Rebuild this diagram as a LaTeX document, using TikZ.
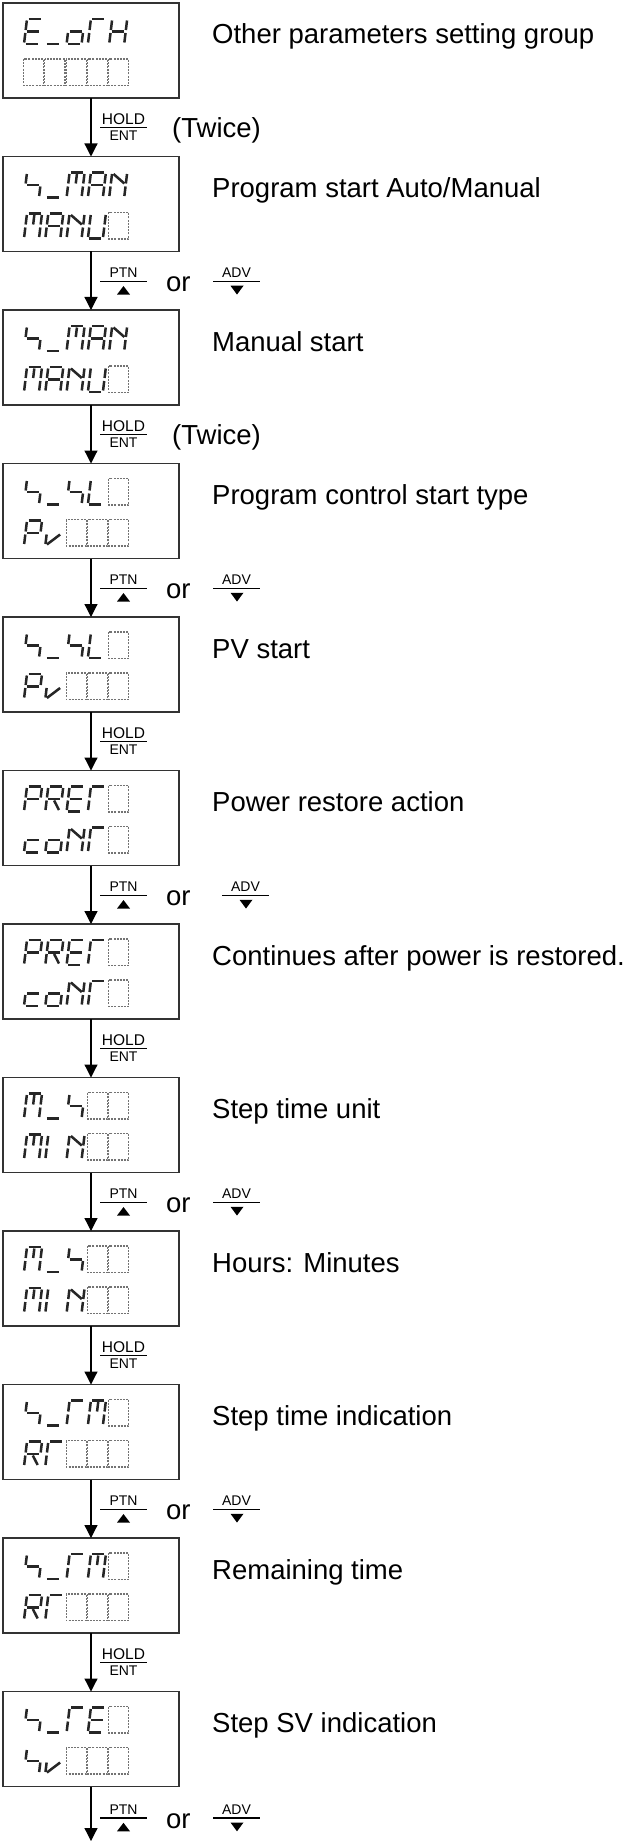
\documentclass[tikz,border=0pt]{standalone}
\usepackage{fontspec}
\setmainfont{Liberation Sans}
\usetikzlibrary{arrows.meta}
\tikzset{
 dbox/.style={draw=black!80, line width=1.4pt, minimum width=176pt, minimum height=95pt, inner sep=0pt, outer sep=0pt},
 lbl/.style={font=\fontsize{27.5}{33}\selectfont, inner sep=0pt, anchor=base west},
 keyup/.style={font=\fontsize{15.5}{17}\selectfont, inner sep=0pt, anchor=base},
 keydn/.style={font=\fontsize{14}{16}\selectfont, inner sep=0pt, anchor=base},
 arr/.style={line width=1.2pt, -{Triangle[length=13pt,width=13pt]}},
 fbar/.style={line width=1.3pt},
 sg/.style={line width=2.5pt, draw=black!85, line cap=butt},
 cellst/.style={draw=black!55, line width=1.1pt, dash pattern=on 2pt off 1.2pt},
}
% segment definitions (local units: width 15, height 25, v upward)
\newcommand\dsegdef[2]{\expandafter\def\csname dseg#1\endcsname{#2}}
\dsegdef{a}{\draw[sg] (1.5,25) -- (13.5,25);}
\dsegdef{b}{\draw[sg] (15,23.5) -- (15,14);}
\dsegdef{c}{\draw[sg] (15,11) -- (15,1.5);}
\dsegdef{d}{\draw[sg] (1.5,0) -- (13.5,0);}
\dsegdef{e}{\draw[sg] (0,1.5) -- (0,11);}
\dsegdef{f}{\draw[sg] (0,14) -- (0,23.5);}
\dsegdef{g}{\draw[sg] (1.5,12.5) -- (13.5,12.5);}
\dsegdef{m}{\draw[sg] (7.5,23.5) -- (7.5,14);}
\dsegdef{k}{\draw[sg] (1.5,23.5) -- (13.5,14);}
\dsegdef{x}{\draw[sg] (1.5,23.5) -- (7.5,15) -- (13.5,23.5);}
\dsegdef{r}{\draw[sg] (7.5,11) -- (13.5,1.5);}
\dsegdef{v}{\draw[sg] (1.5,1) -- (13.5,11);}
% one character at position #1 with baseline #2
\newcommand\dch[3]{%
  \begin{scope}[cm={1,0,-0.12,-1,({24+21.3*(#1-1)},#2)}]
  \foreach \s in {#3}{\csname dseg\s\endcsname}
  \end{scope}}
\newcommand\dcell[2]{%
  \draw[cellst] ({23.6+21.3*(#1-1)},{#2-26}) rectangle ({22.4+21.3*#1},{#2+0.5});}
\newcommand\defchar[2]{\expandafter\def\csname dchar#1\endcsname##1##2{\dch{##1}{##2}{#2}}}
\defchar{E}{a,d,e,f,g}
\defchar{us}{d}
\defchar{o}{c,d,e,g}
\defchar{T}{a,e,f}
\defchar{H}{b,c,e,f,g}
\defchar{S}{f,g,c}
\defchar{M}{a,b,c,e,f,m}
\defchar{A}{a,b,c,e,f,g}
\defchar{N}{b,c,e,f,k}
\defchar{U}{b,c,d,e,f}
\defchar{L}{d,e,f}
\defchar{P}{a,b,e,f,g}
\defchar{v}{e,v}
\defchar{R}{a,b,e,f,g,r}
\defchar{c}{d,e,g}
\defchar{I}{e,f}
\expandafter\def\csname dcharQ\endcsname#1#2{\dcell{#1}{#2}}
% whole display: #1 box top, #2 top row, #3 bottom row
\newcommand\disp[3]{%
  \pgfmathsetmacro\ya{#1+41}\pgfmathsetmacro\yb{#1+82}%
  \foreach \c [count=\i] in {#2}{\csname dchar\c\endcsname{\i}{\ya}}
  \foreach \c [count=\i] in {#3}{\csname dchar\c\endcsname{\i}{\yb}}}
% key labels on arrows
\newcommand\holdlbl[2]{%
  \node[keyup] (hu#2) at (123.5,#1-3) {HOLD};
  \node[keydn] (hd#2) at (123.5,#1+12.5) {ENT};
  \draw[fbar] (100,#1) -- (147,#1);}
\newcommand\ptnlbl[3]{%
  \node[keydn] (pu#2) at (123.5,#1-4) {PTN};
  \draw[fbar] (100,#1) -- (147,#1);
  \fill (117,#1+13.3) -- (130,#1+13.3) -- (123.5,#1+4.8) -- cycle;
  \node[lbl] (or#2) at (166,#1+10) {or};
  \node[keydn] (au#2) at ({236.5+#3},#1-4) {ADV};
  \draw[fbar] ({213+#3},#1) -- ({260+#3},#1);
  \fill ({230.5+#3},#1+4.5) -- ({243.5+#3},#1+4.5) -- ({237+#3},#1+13.3) -- cycle;}
\begin{document}
\begin{tikzpicture}[x=1pt,y=-1pt]
\path[fill=white] (0,0) rectangle (636,1843);
\useasboundingbox (0,0) rectangle (636,1843);
% boxes
\node[dbox] (b1) at (91,50.5) {};
\node[dbox] (b2) at (91,204) {};
\node[dbox] (b3) at (91,357.5) {};
\node[dbox] (b4) at (91,511) {};
\node[dbox] (b5) at (91,664.5) {};
\node[dbox] (b6) at (91,818) {};
\node[dbox] (b7) at (91,971.5) {};
\node[dbox] (b8) at (91,1125) {};
\node[dbox] (b9) at (91,1278.5) {};
\node[dbox] (b10) at (91,1432) {};
\node[dbox] (b11) at (91,1585.5) {};
\node[dbox] (b12) at (91,1739) {};
% displays
\disp{3}{E,us,o,T,H}{Q,Q,Q,Q,Q}
\disp{156.5}{S,us,M,A,N}{M,A,N,U,Q}
\disp{310}{S,us,M,A,N}{M,A,N,U,Q}
\disp{463.5}{S,us,S,L,Q}{P,v,Q,Q,Q}
\disp{617}{S,us,S,L,Q}{P,v,Q,Q,Q}
\disp{770.5}{P,R,E,T,Q}{c,o,N,T,Q}
\disp{924}{P,R,E,T,Q}{c,o,N,T,Q}
\disp{1077.5}{M,us,S,Q,Q}{M,I,N,Q,Q}
\disp{1231}{M,us,S,Q,Q}{M,I,N,Q,Q}
\disp{1384.5}{S,us,T,M,Q}{R,T,Q,Q,Q}
\disp{1538}{S,us,T,M,Q}{R,T,Q,Q,Q}
\disp{1691.5}{S,us,T,E,Q}{S,v,Q,Q,Q}
% labels
\node[lbl] (l1) at (212,44) {Other parameters setting group};
\node[lbl] (l2) at (212,197.5) {Program start Auto/Manual};
\node[lbl] (l3) at (212,351) {Manual start};
\node[lbl] (l4) at (212,504.5) {Program control start type};
\node[lbl] (l5) at (212,658) {PV start};
\node[lbl] (l6) at (212,811.5) {Power restore action};
\node[lbl] (l7) at (212,965) {Continues after power is restored.};
\node[lbl] (l8) at (212,1118.5) {Step time unit};
\node[lbl] (l9) at (212,1272) {Hours: Minutes};
\node[lbl] (l10) at (212,1425.5) {Step time indication};
\node[lbl] (l11) at (212,1579) {Remaining time};
\node[lbl] (l12) at (212,1732.5) {Step SV indication};
% arrows
\coordinate (end) at (91,1841);
\draw[arr] (b1.south) -- (b2.north);
\draw[arr] (b2.south) -- (b3.north);
\draw[arr] (b3.south) -- (b4.north);
\draw[arr] (b4.south) -- (b5.north);
\draw[arr] (b5.south) -- (b6.north);
\draw[arr] (b6.south) -- (b7.north);
\draw[arr] (b7.south) -- (b8.north);
\draw[arr] (b8.south) -- (b9.north);
\draw[arr] (b9.south) -- (b10.north);
\draw[arr] (b10.south) -- (b11.north);
\draw[arr] (b11.south) -- (b12.north);
\draw[arr] (b12.south) -- (end);
% arrow labels
\holdlbl{127.75}{1}
\node[lbl] (tw1) at (172,137.75) {(Twice)};
\ptnlbl{281.25}{2}{0}
\holdlbl{434.75}{3}
\node[lbl] (tw3) at (172,444.75) {(Twice)};
\ptnlbl{588.25}{4}{0}
\holdlbl{741.75}{5}
\ptnlbl{895.25}{6}{9}
\holdlbl{1048.75}{7}
\ptnlbl{1202.25}{8}{0}
\holdlbl{1355.75}{9}
\ptnlbl{1509.25}{10}{0}
\holdlbl{1662.75}{11}
\ptnlbl{1818}{12}{0}
\end{tikzpicture}
\end{document}
